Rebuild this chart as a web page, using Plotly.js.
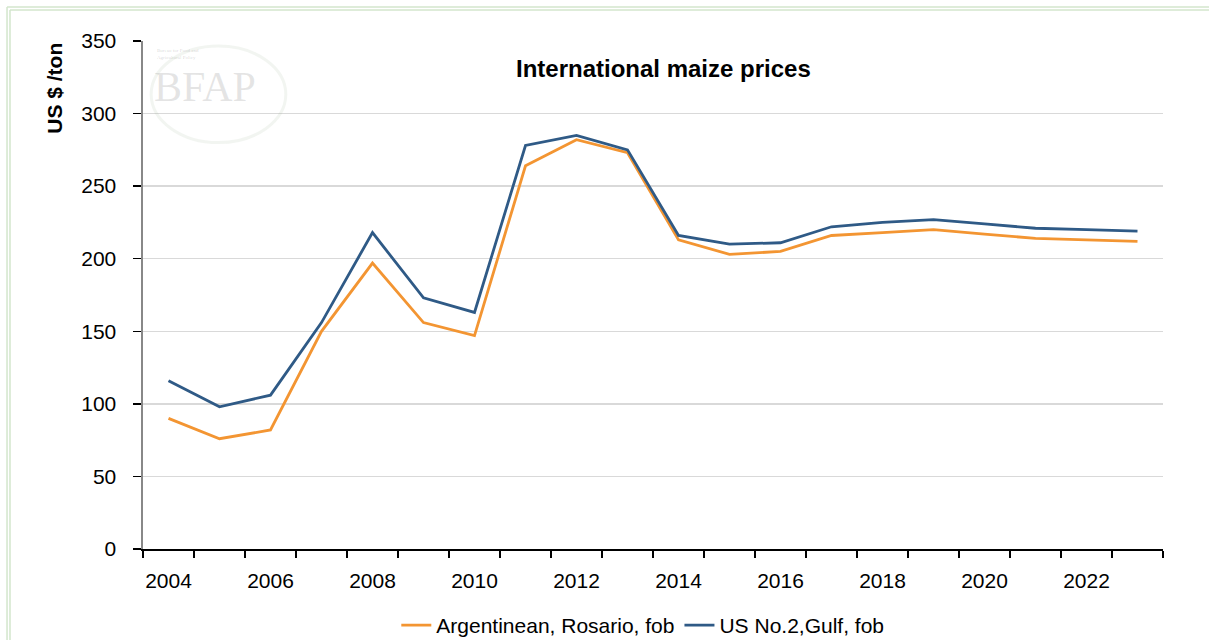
<!DOCTYPE html>
<html>
<head>
<meta charset="utf-8">
<script src="https://cdn.plot.ly/plotly-3.0.1.min.js"></script>
<style>
html,body{margin:0;padding:0;background:#fff;}
#chart{width:1209px;height:640px;}
</style>
</head>
<body>
<div id="chart"></div>
<script>
const years = [2004,2005,2006,2007,2008,2009,2010,2011,2012,2013,2014,2015,2016,2017,2018,2019,2020,2021,2022,2023];
const argentinean = [90,76,82,150,197,156,147,264,282,273,213,203,205,216,218,220,217,214,213,212];
const usGulf = [116,98,106,156,218,173,163,278,285,275,216,210,211,222,225,227,224,221,220,219];
const seriesNames = ["Argentinean, Rosario, fob","US No.2,Gulf, fob"];
const tickYears = [2004,2006,2008,2010,2012,2014,2016,2018,2020,2022];
const chartTitle = "International maize prices";
const yTitle = "US $ /ton";

const traces = [
  {x: years, y: argentinean, name: seriesNames[0], type: "scatter", mode: "lines",
   line: {color: "#F39532", width: 2.8}},
  {x: years, y: usGulf, name: seriesNames[1], type: "scatter", mode: "lines",
   line: {color: "#2F5A86", width: 2.8}}
];

const font = "Liberation Sans, Arial, sans-serif";
const layout = {
  width: 1209, height: 640,
  margin: {l: 143, r: 46, t: 41, b: 91, autoexpand: false},
  paper_bgcolor: "#ffffff", plot_bgcolor: "#ffffff",
  showlegend: true,
  legend: {orientation: "h", x: 0.49, xanchor: "center", y: -0.11, yanchor: "top",
           font: {family: font, size: 21, color: "#000"}, itemwidth: 30, tracegroupgap: 0},
  xaxis: {
    range: [2003.5, 2023.5], tickmode: "array", tickvals: tickYears, ticktext: tickYears.map(String),
    ticks: "", showgrid: false, zeroline: false,
    showline: true, linecolor: "#000", linewidth: 1.5,
    tickfont: {family: font, size: 21, color: "#000"}, ticklabelstandoff: 12,
    minor: {tick0: 2003.5, dtick: 1, ticks: "outside", ticklen: 7, tickcolor: "#000", tickwidth: 1.5, showgrid: false},
    fixedrange: true
  },
  yaxis: {
    range: [0, 350], tick0: 0, dtick: 50, ticks: "outside", ticklen: 8, tickcolor: "#000", tickwidth: 1.5,
    showgrid: true, gridcolor: "#d9d9d9", gridwidth: 1.5, zeroline: false,
    showline: true, linecolor: "#888", linewidth: 2.5,
    tickfont: {family: font, size: 21, color: "#000"}, ticklabelstandoff: 12,
    fixedrange: true
  },
  annotations: [
    {text: "<b>" + chartTitle + "</b>", xref: "paper", yref: "paper", x: 0.51, y: 0.945,
     xanchor: "center", yanchor: "middle", showarrow: false,
     font: {family: font, size: 24, color: "#000"}},
    {text: "<b>" + yTitle + "</b>", xref: "paper", yref: "paper", x: -0.087, y: 1.0,
     xanchor: "center", yanchor: "top", textangle: -90, showarrow: false,
     font: {family: font, size: 21, color: "#000"}},
    {text: "BFAP", xref: "paper", yref: "paper", x: 0.061, y: 0.91,
     xanchor: "center", yanchor: "middle", showarrow: false,
     font: {family: "Liberation Serif, serif", size: 42, color: "rgba(150,150,150,0.25)"}},
    {text: "Bureau for Food and<br>Agricultural Policy", xref: "paper", yref: "paper", x: 0.012, y: 0.975,
     xanchor: "left", yanchor: "middle", align: "left", showarrow: false,
     font: {family: "Liberation Serif, serif", size: 5, color: "rgba(120,120,120,0.3)"}}
  ],
  shapes: [
    {type: "line", xref: "paper", yref: "paper", x0: -0.1333, x1: 1.05, y0: 1.0669, y1: 1.0669,
     line: {color: "#d3e6cc", width: 1.5}},
    {type: "line", xref: "paper", yref: "paper", x0: -0.1304, x1: 1.05, y0: 1.0610, y1: 1.0610,
     line: {color: "#d3e6cc", width: 1.5}},
    {type: "line", xref: "paper", yref: "paper", x0: -0.1333, x1: -0.1333, y0: 1.0669, y1: -0.2,
     line: {color: "#d3e6cc", width: 1.5}},
    {type: "line", xref: "paper", yref: "paper", x0: -0.1304, x1: -0.1304, y0: 1.0610, y1: -0.2,
     line: {color: "#d3e6cc", width: 1.5}},
    {type: "circle", xref: "paper", yref: "paper", x0: 0.008, x1: 0.14, y0: 0.80, y1: 0.99,
     line: {color: "rgba(150,170,140,0.12)", width: 3}}
  ]
};

Plotly.newPlot("chart", traces, layout, {displayModeBar: false, staticPlot: true});
</script>
</body>
</html>
